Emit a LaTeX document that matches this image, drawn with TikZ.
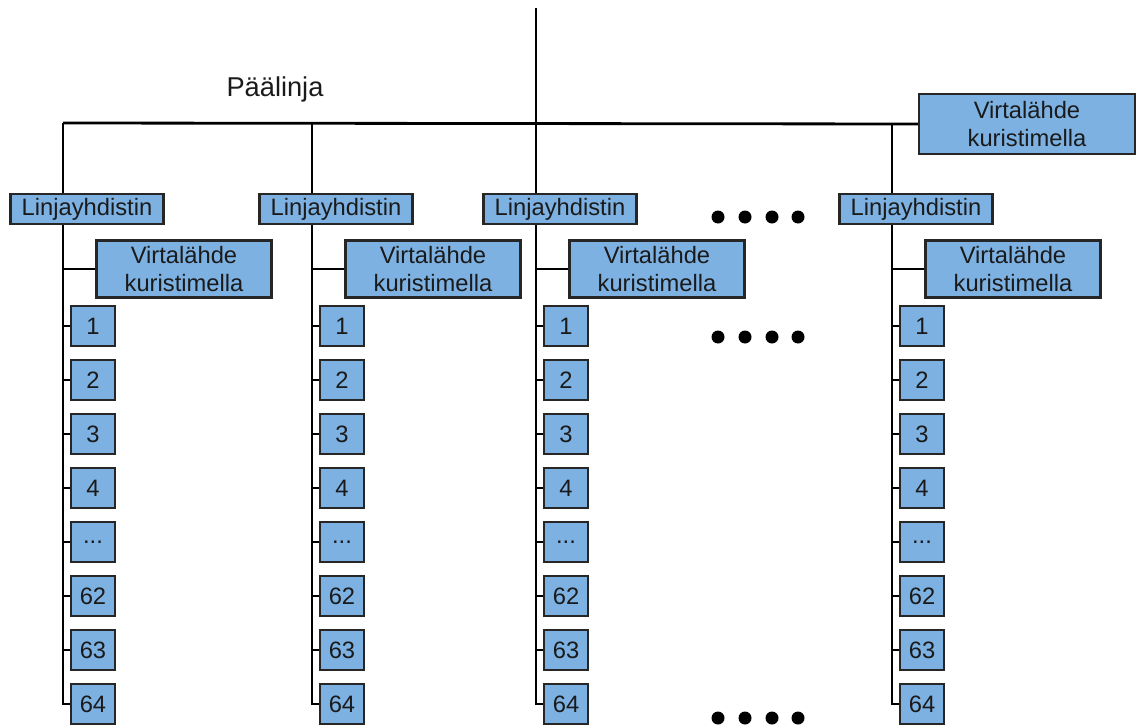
\documentclass[tikz,border=0pt]{standalone}
\usepackage{fontspec}
\setmainfont{Liberation Sans}
\usepackage{tikz}
\definecolor{boxfill}{HTML}{7DB1E2}
\definecolor{boxline}{HTML}{262626}
\definecolor{ink}{HTML}{1A1A1A}
\tikzset{
  box/.style={draw=boxline, fill=boxfill, line width=1.2pt, inner sep=0pt, align=center, text=ink, font=\fontsize{13.5}{16}\selectfont},
  coupler/.style={box, minimum width=3.06cm, minimum height=0.6cm},
  supply/.style={box, minimum width=3.5cm, minimum height=1.14cm},
  numbox/.style={box, minimum width=0.88cm, minimum height=0.8cm},
  wire/.style={draw=black, line width=1.6pt},
  dot/.style={circle, fill=black, inner sep=0pt, minimum size=0.26cm},
  lab/.style={text=ink, font=\fontsize{15.5}{18}\selectfont},
}
\def\skipped{...}

\begin{document}
\begin{tikzpicture}[x=0.02cm,y=-0.02cm]
  \useasboundingbox (0,0) rectangle (1137,727);
  \coordinate (top) at (536,8);
  \node[lab] (main) at (275,89) {Päälinja};
  \node[supply, minimum width=4.32cm, minimum height=1.2cm] (psu) at (1027,124) {Virtalähde\\kuristimella};
  \foreach \n/\bx in {a/63,b/312,c/536,d/892}{
    \coordinate (br-\n) at (\bx,123);
    \node[coupler] (L-\n) at (\bx+24,209) {Linjayhdistin};
    \node[supply] (V-\n) at (\bx+121,269) {Virtalähde\\kuristimella};
    \foreach \t [count=\k] in {1,2,3,4,\skipped,62,63,64}
      \node[numbox] (num-\n-\k) at (\bx+30,{326+54*(\k-1)}) {\t};
    \draw[wire] (br-\n) -- (br-\n |- L-\n.north);
    \draw[wire] (br-\n |- L-\n.south) |- (num-\n-8.west);
    \draw[wire] (br-\n |- V-\n.west) -- (V-\n.west);
    \foreach \k in {1,...,7}
      \draw[wire] (br-\n |- num-\n-\k.west) -- (num-\n-\k.west);
  }
  \draw[wire] (br-a) -- (psu.west);
  \draw[wire] (top) -- (br-c);
  % continuation marks
  \foreach \row/\y in {1/217,2/337,3/718}
    \foreach \i/\x in {1/718,2/745,3/772,4/798}
      \node[dot] (dot-\row-\i) at (\x,\y) {};
\end{tikzpicture}
\end{document}
